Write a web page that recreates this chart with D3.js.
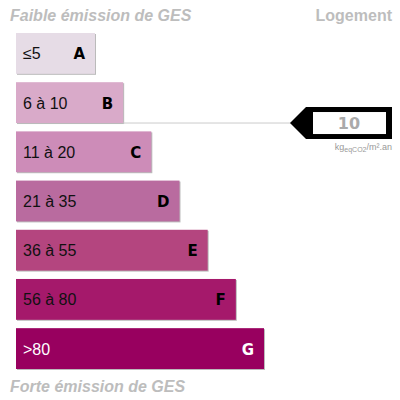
<!DOCTYPE html><html><head><meta charset="utf-8">
<script src="https://cdn.jsdelivr.net/npm/d3@7"></script>
<style>body{margin:0;background:#fff}</style></head><body>
<script>
const classes=["A","B","C","D","E","F","G"];
const ranges=["≤5","6 à 10","11 à 20","21 à 35","36 à 55","56 à 80",">80"];
const colors=["#e6dce6","#d9aac9","#cd8cb8","#b96b9f","#b4457f","#a5196b","#98005f"];
const value=10, valueClass="B";
const svg=d3.select("body").append("svg").attr("width",400).attr("height",400);
const y=d3.scaleBand().domain(classes).range([33,369]).paddingInner(0.17).paddingOuter(0);
const w=d3.scaleLinear().domain([0,6]).range([79,248]);
const x0=16;
const ff="Liberation Sans, Arial, sans-serif";
svg.append("text").attr("x",10).attr("y",21).text("Faible émission de GES").attr("font-family",ff).attr("font-size",16).attr("font-weight","bold").attr("font-style","italic").attr("fill","#bdbdbd");
svg.append("text").attr("x",392).attr("y",21).attr("text-anchor","end").text("Logement").attr("font-family",ff).attr("font-size",16).attr("font-weight","bold").attr("fill","#bdbdbd");
svg.append("text").attr("x",10).attr("y",392).text("Forte émission de GES").attr("font-family",ff).attr("font-size",16).attr("font-weight","bold").attr("font-style","italic").attr("fill","#bdbdbd");
const g=svg.selectAll("g.bar").data(classes).join("g");
g.append("rect").attr("x",x0+1).attr("y",d=>y(d)+1).attr("width",(d,i)=>w(i)).attr("height",y.bandwidth()).attr("fill","#bbb");
g.append("rect").attr("x",x0).attr("y",d=>y(d)).attr("width",(d,i)=>w(i)).attr("height",y.bandwidth()).attr("fill",(d,i)=>colors[i]);
g.append("text").attr("x",x0+7).attr("y",d=>y(d)+y.bandwidth()/2+6).text((d,i)=>ranges[i]).attr("font-family",ff).attr("font-size",16).attr("fill",(d,i)=>i==6?"#fff":"#111");
g.append("text").attr("x",(d,i)=>x0+w(i)-10).attr("text-anchor","end").attr("y",d=>y(d)+y.bandwidth()/2+6).text(d=>d).attr("font-family","DejaVu Sans, sans-serif").attr("font-weight","bold").attr("font-size",15).attr("fill",(d,i)=>i==6?"#fff":"#000");
const bi=classes.indexOf(valueClass);
const ay=y(valueClass)+y.bandwidth();
svg.append("line").attr("x1",x0+w(bi)).attr("x2",292).attr("y1",ay).attr("y2",ay).attr("stroke","#ccc");
svg.append("path").attr("d",`M290,${ay} L306,${ay-16} L392,${ay-16} L392,${ay+16} L306,${ay+16} Z`).attr("fill","#000");
svg.append("rect").attr("x",313).attr("y",ay-11).attr("width",73).attr("height",22).attr("fill","#fff");
svg.append("text").attr("x",349).attr("y",ay+6).attr("text-anchor","middle").text(value).attr("font-family","DejaVu Sans, sans-serif").attr("font-weight","bold").attr("font-size",16).attr("fill","#aaa");
const t=svg.append("text").attr("x",392).attr("y",ay+27).attr("text-anchor","end").attr("font-family",ff).attr("font-size",9).attr("fill","#999");
t.append("tspan").text("kg");t.append("tspan").attr("font-size",7).attr("dy",2).text("eqCO2");t.append("tspan").attr("dy",-2).text("/m².an");
</script></body></html>
